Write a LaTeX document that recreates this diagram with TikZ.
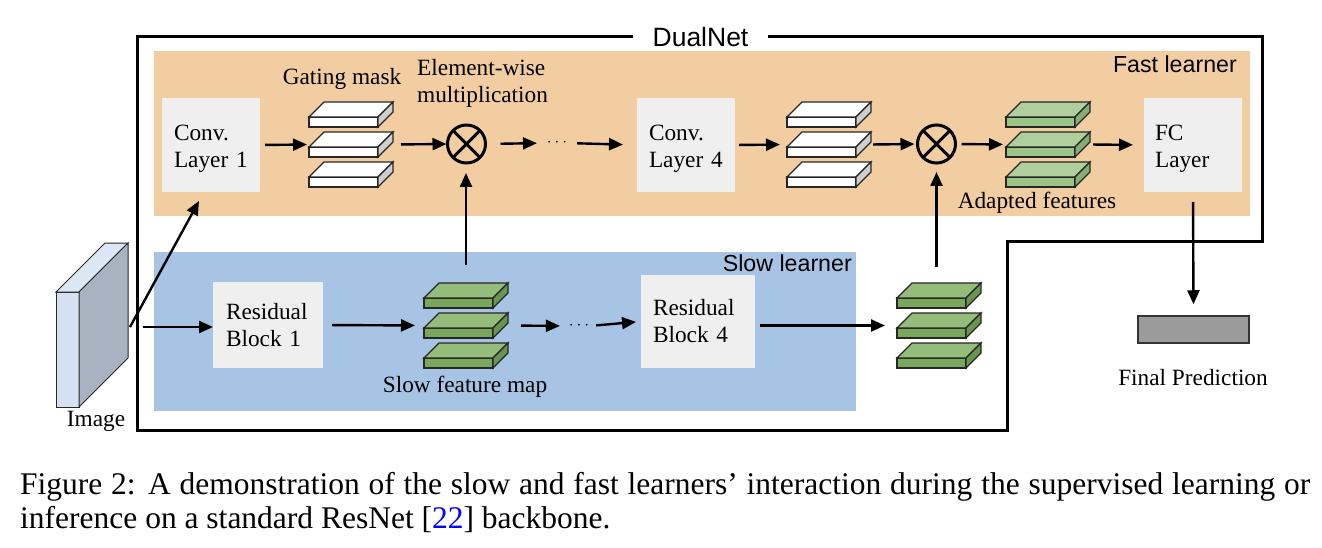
\documentclass[tikz,border=0pt]{standalone}
\usepackage{fontspec}
\setmainfont{Liberation Serif}
\newfontfamily\sansf{Liberation Sans}
\usetikzlibrary{arrows.meta,calc}
\definecolor{fastbg}{HTML}{F1CDA1}
\definecolor{slowbg}{HTML}{A8C4E4}
\definecolor{boxgray}{HTML}{EFEFEF}
\definecolor{wside}{HTML}{CFCFCF}
\definecolor{gtop}{HTML}{94BC7B}
\definecolor{gfront}{HTML}{79A85D}
\definecolor{gside}{HTML}{6A9551}
\definecolor{atop}{HTML}{AFCF9D}
\definecolor{afront}{HTML}{9CC487}
\definecolor{aside}{HTML}{86AE72}
\definecolor{imgfront}{HTML}{D5E1F1}
\definecolor{imgtop}{HTML}{DCE7F5}
\definecolor{imgside}{HTML}{A7B3C1}
\definecolor{predgray}{HTML}{9B9B9B}
\definecolor{citeblue}{HTML}{0000FF}
\newcommand\myslab[5]{%
  \filldraw[slabline, fill=#3] (#1,#2) rectangle ++(69,10);
  \filldraw[slabline, fill=#4] (#1,#2) -- ++(15,-15) -- ++(69,0) -- ++(-15,15) -- cycle;
  \filldraw[slabline, fill=#5] (#1+69,#2) -- ++(15,-15) -- ++(0,10) -- ++(-15,15) -- cycle;
}
\newcommand\mystack[6]{%
  \myslab{#1}{#2}{#3}{#4}{#5}
  \myslab{#1}{#2+30}{#3}{#4}{#5}
  \myslab{#1}{#2+60}{#3}{#4}{#5}
  \node[inner sep=0pt, outer sep=0pt, minimum width=84pt, minimum height=85pt] (#6) at (#1+42,#2+27.5) {};
}
\newcommand\topstrut{\rule{0pt}{23pt}}
\begin{document}
\begin{tikzpicture}[x=1pt,y=-1pt,
  serif/.style={font=\fontsize{23.3}{27}\selectfont},
  sans/.style={font=\sansf\fontsize{23.2}{27}\selectfont},
  lbox/.style={serif, fill=boxgray, align=left, inner ysep=0pt, outer sep=0pt},
  slabline/.style={draw=black!85, line width=1.3pt, line join=miter},
  arr/.style={line width=2.4pt, -{Triangle[length=14pt,width=12pt]}},
  border/.style={line width=3pt, line join=miter},
  otimes/.style={circle, draw, line width=3pt, minimum size=38pt, inner sep=0pt, outer sep=0pt},
  dotsn/.style={inner sep=0pt, outer sep=0pt, minimum width=19pt, font=\fontsize{17}{20}\selectfont}
]
\useasboundingbox (0,0) rectangle (1322,548);
% backgrounds
\fill[fastbg] (154,51) rectangle (1250,216);
\fill[slowbg] (154,252) rectangle (856,411);
% DualNet border
\draw[border] (137,37) -- (1262,37) -- (1262,241) -- (1007,241) -- (1007,430) -- (137,430) -- cycle;
\node[sans, font=\sansf\fontsize{26.5}{30}\selectfont, fill=white, minimum width=135pt, inner ysep=2pt] (dn) at (700.5,37) {DualNet};
\node[sans, anchor=base east, inner sep=0pt] (fastlbl) at (1237,73) {Fast learner};
\node[sans, anchor=base east, inner sep=0pt] (slowlbl) at (852,271) {Slow learner};
% boxes
\node[lbox, text width=74pt, inner xsep=12pt, minimum height=94pt] (conv1) at (211,145) {\topstrut Conv.\\Layer 1};
\node[lbox, text width=74pt, inner xsep=12pt, minimum height=94pt] (conv4) at (686,145) {\topstrut Conv.\\Layer 4};
\node[lbox, text width=76pt, inner xsep=11pt, minimum height=94pt] (fc) at (1193,145) {\topstrut FC\\Layer};
\node[lbox, text width=84pt, inner xsep=13pt, minimum height=86pt] (rb1) at (268,325) {Residual\\Block 1};
\node[lbox, text width=90pt, inner xsep=12pt, minimum height=93pt] (rb4) at (698,321.5) {Residual\\Block 4};
% stacks
\mystack{309}{117}{white}{white}{wside}{gm1}
\mystack{787}{117}{white}{white}{wside}{gm2}
\mystack{1006}{117}{afront}{atop}{aside}{af}
\mystack{424}{298}{gfront}{gtop}{gside}{sm}
\mystack{897}{298}{gfront}{gtop}{gside}{so}
% otimes
\node[otimes] (ot1) at (466.5,144) {};
\draw[line width=3pt] (ot1.north west) -- (ot1.south east) (ot1.north east) -- (ot1.south west);
\node[otimes] (ot2) at (936.5,144) {};
\draw[line width=3pt] (ot2.north west) -- (ot2.south east) (ot2.north east) -- (ot2.south west);
% dots
\node[dotsn] (d1) at (557,143) {$\cdots$};
\node[dotsn] (d2) at (579,326) {$\cdots$};
% labels
\node[serif, anchor=base, inner sep=0pt] (gml) at (342,85) {Gating mask};
\node[serif, anchor=north west, align=left, inner sep=0pt] (ewl) at (417,59) {Element-wise\\multiplication};
\node[serif, anchor=base, inner sep=0pt] (afl) at (1037,208) {Adapted features};
\node[serif, anchor=base, inner sep=0pt] (sml) at (465,392) {Slow feature map};
\node[serif, anchor=base, inner sep=0pt] (fpl) at (1193,385) {Final Prediction};
\node[serif, anchor=base, inner sep=0pt] (iml) at (96,426) {Image};
% final prediction
\node[draw=black!80, line width=1.5pt, fill=predgray, minimum width=111pt, minimum height=27pt, inner sep=0pt] (pred) at (1193.5,329.5) {};
% image block
\filldraw[draw=black!85, line width=1pt, fill=imgfront] (56,292) rectangle (79,407);
\filldraw[draw=black!85, line width=1pt, fill=imgtop] (56,292) -- (105,243) -- (128,243) -- (79,292) -- cycle;
\filldraw[draw=black!85, line width=1pt, fill=imgside] (79,292) -- (128,243) -- (128,358) -- (79,407) -- cycle;
\coordinate (imgout) at (130,327);
% arrows fast path
\draw[arr, shorten <=5pt, shorten >=2pt] (conv1.east) -- (gm1.west);
\draw[arr, shorten <=8pt, shorten >=1pt] (gm1.east) -- (ot1.west);
\draw[arr, shorten <=15pt, shorten >=10pt] (ot1.east) -- (d1.west);
\draw[arr, shorten <=10pt, shorten >=14pt] (d1.east) -- (conv4.west);
\draw[arr, shorten <=4pt, shorten >=7pt] (conv4.east) -- (gm2.west);
\draw[arr, shorten <=2pt, shorten >=3pt] (gm2.east) -- (ot2.west);
\draw[arr, shorten <=6pt, shorten >=3pt] (ot2.east) -- (af.west);
\draw[arr, shorten <=3pt, shorten >=11pt] (af.east) -- (fc.west);
\draw[arr, shorten <=10pt, shorten >=11pt] (fc.south) -- (pred.north);
% slow path
\draw[arr, shorten <=13pt] (imgout) -- (imgout -| rb1.west);
\draw[arr] (imgout) -- ([xshift=-12pt,yshift=-9pt]conv1.south);
\draw[arr, shorten <=9pt, shorten >=9pt] (rb1.east) -- (sm.west);
\draw[arr, shorten <=13pt, shorten >=9pt] (sm.east) -- (d2.west);
\draw[arr, shorten <=7pt, shorten >=5pt] (d2.east) -- (rb4.west);
\draw[arr, shorten <=5pt, shorten >=12pt] (rb4.east |- so.west) -- (so.west);
\draw[arr, shorten <=18pt, shorten >=10pt] (sm.north) -- (sm.north |- ot1.south);
\draw[arr, shorten <=16pt, shorten >=9pt] (ot2 |- so.north) -- (ot2.south);
% caption
\node[anchor=north west, inner sep=0pt, text width=1290pt, align=justify, font=\fontsize{31.5}{34}\selectfont] (cap) at (20,472.5) {Figure 2: A demonstration of the slow and fast learners’ interaction during the supervised learning or\linebreak inference on a standard ResNet [{\color{citeblue}22}] backbone.};
\end{tikzpicture}
\end{document}
